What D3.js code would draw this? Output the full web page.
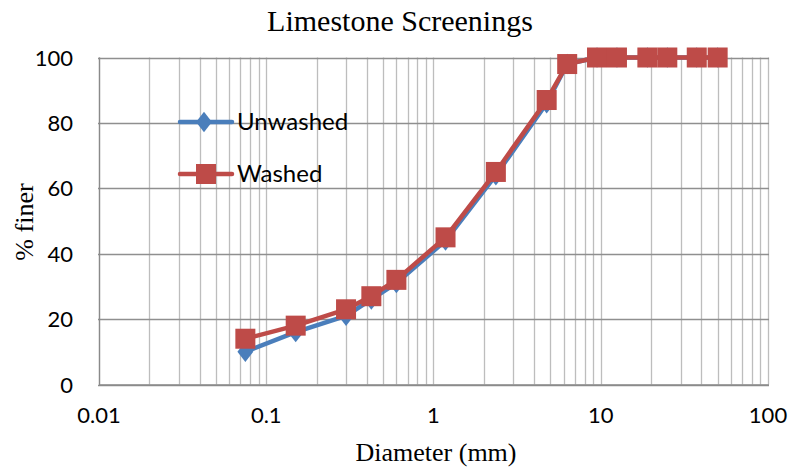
<!DOCTYPE html>
<html><head><meta charset="utf-8">
<script src="https://cdn.jsdelivr.net/npm/d3@7"></script>
<style>body{margin:0;background:#fff}</style>
</head><body>
<svg id="c" width="791" height="468"></svg>
<script>
const diameters = [0.075, 0.15, 0.3, 0.425, 0.6, 1.18, 2.36, 4.75, 6.3, 9.5, 12.5, 19, 25, 37.5, 50];
const unwashed = [10, 16, 21, 26, 31, 44, 64, 86, 98, 100, 100, 100, 100, 100, 100];
const washed   = [14, 18, 23, 27, 32, 45, 65, 87, 98, 100, 100, 100, 100, 100, 100];
const xTicks = [0.01, 0.1, 1, 10, 100];
const xTickLabels = ["0.01", "0.1", "1", "10", "100"];
const yTicks = [0, 20, 40, 60, 80, 100];
const seriesNames = ["Unwashed", "Washed"];

const svg = d3.select("#c");
const L = 99, R = 768, T = 57.5, B = 384.5;
const x = d3.scaleLog().domain([0.01, 100]).range([L, R]);
const y = d3.scaleLinear().domain([0, 100]).range([B, T]);

const vgrid = [];
for (let e = -2; e < 2; e++) for (let m = 1; m <= 9; m++) vgrid.push(m * Math.pow(10, e));
vgrid.push(100);
svg.append("g").selectAll("line").data(vgrid).join("line")
  .attr("x1", d => Math.round(x(d)) + 0.5).attr("x2", d => Math.round(x(d)) + 0.5)
  .attr("y1", T).attr("y2", B)
  .attr("stroke", "#bdbdbd").attr("stroke-width", 1.3);

svg.append("g").selectAll("line").data(yTicks).join("line")
  .attr("x1", L - 1).attr("x2", R + 1)
  .attr("y1", d => Math.round(y(d)) + 0.5).attr("y2", d => Math.round(y(d)) + 0.5)
  .attr("stroke", "#8f8f8f").attr("stroke-width", 1.3);

svg.append("line").attr("x1", L + 0.5).attr("x2", L + 0.5).attr("y1", T).attr("y2", B + 0.5)
  .attr("stroke", "#8a8a8a").attr("stroke-width", 1.3);
svg.append("line").attr("x1", L).attr("x2", R + 1).attr("y1", B + 0.5).attr("y2", B + 0.5)
  .attr("stroke", "#8a8a8a").attr("stroke-width", 1.3);

const tickFont = "Lato, sans-serif";
svg.append("g").selectAll("text").data(yTicks).join("text")
  .attr("x", 73).attr("y", d => y(d) + 8)
  .attr("text-anchor", "end").attr("font-family", tickFont).attr("font-size", 22)
  .attr("fill", "#000").text(d => d);
svg.append("g").selectAll("text").data(xTicks).join("text")
  .attr("x", d => x(d)).attr("y", 423)
  .attr("text-anchor", "middle").attr("font-family", tickFont).attr("font-size", 22)
  .attr("fill", "#000").text((d, i) => xTickLabels[i]);

const serif = "'Liberation Serif', 'Times New Roman', serif";
svg.append("text").attr("x", 400).attr("y", 31).attr("text-anchor", "middle")
  .attr("font-family", serif).attr("font-size", 30).text("Limestone Screenings");
svg.append("text").attr("x", 436).attr("y", 461).attr("text-anchor", "middle")
  .attr("font-family", serif).attr("font-size", 26).text("Diameter (mm)");
svg.append("text").attr("transform", "translate(33,222) rotate(-90)").attr("text-anchor", "middle")
  .attr("font-family", serif).attr("font-size", 26).text("% finer");

const line = d3.line().x(d => x(d[0])).y(d => y(d[1]));
const blue = "#4a7ebb", red = "#be4b48";
const uData = diameters.map((d, i) => [d, unwashed[i]]);
const wData = diameters.map((d, i) => [d, washed[i]]);

svg.append("path").datum(uData).attr("d", line).attr("fill", "none")
  .attr("stroke", blue).attr("stroke-width", 4.5).attr("stroke-linejoin", "round");
const diamond = d3.symbol().type(d3.symbolDiamond).size(120);
svg.append("g").selectAll("path").data(uData).join("path")
  .attr("d", diamond).attr("transform", d => `translate(${x(d[0])},${y(d[1])}) scale(1.35,1)`)
  .attr("fill", blue);

svg.append("path").datum(wData).attr("d", line).attr("fill", "none")
  .attr("stroke", red).attr("stroke-width", 4.5).attr("stroke-linejoin", "round");
svg.append("g").selectAll("rect").data(wData).join("rect")
  .attr("x", d => x(d[0]) - 10).attr("y", d => y(d[1]) - 10)
  .attr("width", 20).attr("height", 20).attr("fill", red);

const leg = svg.append("g");
const legItems = [{name: seriesNames[0], color: blue, yy: 122, mark: "d"}, {name: seriesNames[1], color: red, yy: 174, mark: "s"}];
legItems.forEach(it => {
  leg.append("line").attr("x1", 180).attr("x2", 232).attr("y1", it.yy).attr("y2", it.yy)
    .attr("stroke", it.color).attr("stroke-width", 4.5).attr("stroke-linecap", "round");
  if (it.mark === "d") {
    leg.append("path").attr("d", diamond).attr("transform", `translate(204,${it.yy}) scale(1.35,1)`).attr("fill", it.color);
  } else {
    leg.append("rect").attr("x", 196).attr("y", it.yy - 10).attr("width", 20).attr("height", 20).attr("fill", it.color);
  }
  leg.append("text").attr("x", 237).attr("y", it.yy + 8).attr("font-family", tickFont)
    .attr("font-size", 24).attr("fill", "#000").text(it.name);
});
</script>
</body></html>
